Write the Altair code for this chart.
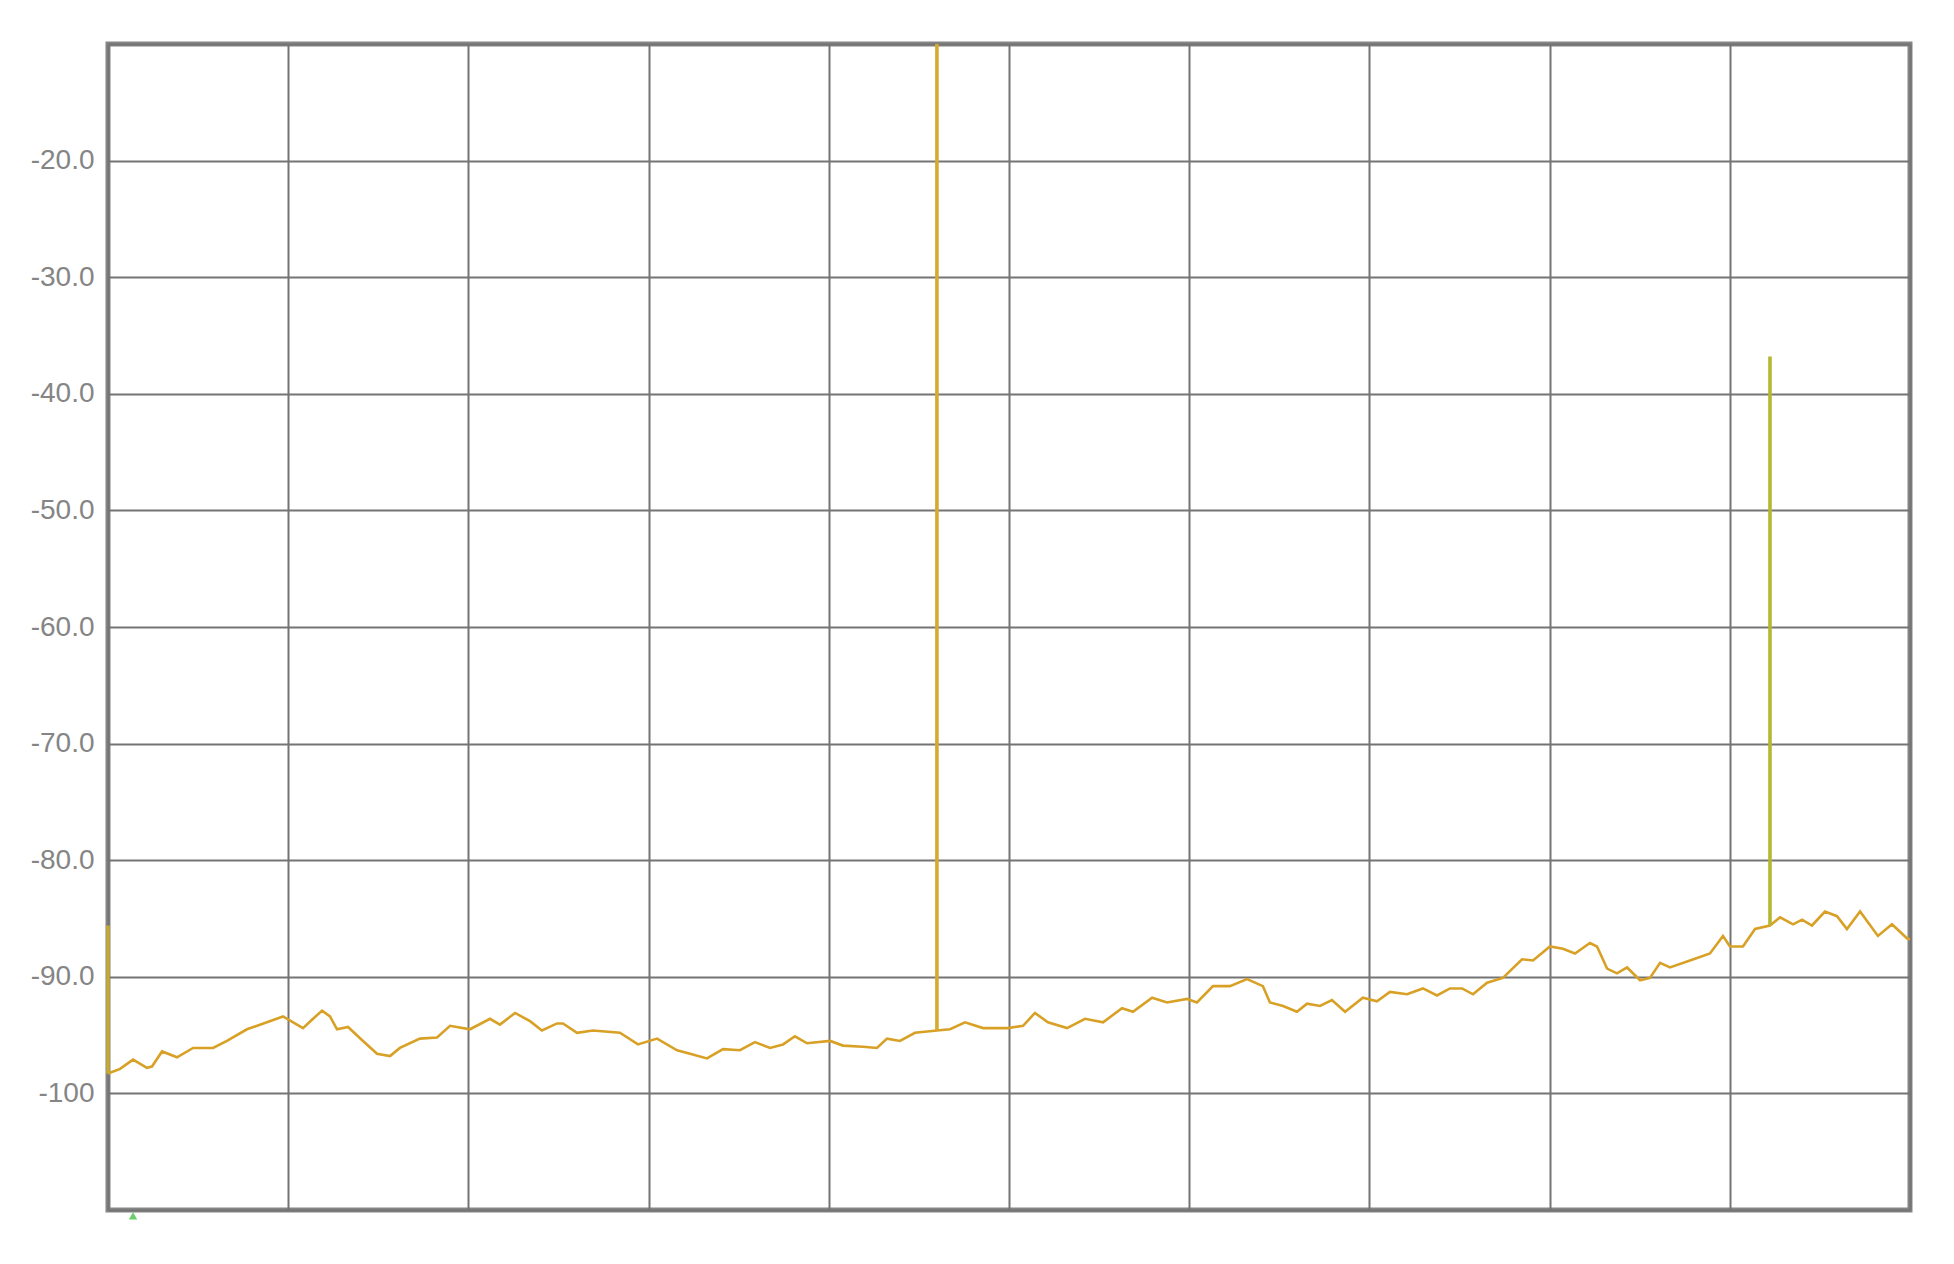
import altair as alt
import pandas as pd

# Trace point index (0..1000 across the 10 divisions) and level in dBm
trace_x = [0, 6.7, 13.9, 21.6, 24.4, 30.0, 38.3, 47.2, 58.3, 66.0, 77.1, 88.2, 97.1,
           108.2, 113.8, 118.8, 123.2, 127.1, 133.2, 141.5, 149.3, 156.5, 162.0, 173.1,
           182.6, 189.8, 200.9, 212.0, 217.5, 225.9, 234.2, 240.8, 249.2, 252.5, 260.3,
           269.1, 284.1, 294.1, 304.7, 315.8, 323.0, 332.4, 341.3, 350.7, 359.0, 367.4,
           374.6, 381.2, 387.9, 400.7, 407.9, 419.0, 426.7, 432.3, 439.5, 447.8, 460.0,
           467.3, 475.6, 485.6, 499.4, 507.8, 514.4, 521.6, 532.2, 542.2, 552.2, 562.7,
           568.8, 579.4, 587.7, 598.8, 604.3, 613.2, 622.6, 632.1, 640.9, 644.8, 652.1,
           659.8, 665.4, 672.6, 679.2, 686.5, 696.4, 704.2, 711.4, 720.9, 729.7, 737.5,
           744.7, 751.4, 757.5, 765.3, 774.1, 784.7, 790.8, 800.2, 807.4, 814.1, 822.4,
           826.3, 831.9, 837.4, 843.0, 850.2, 855.7, 861.3, 866.8, 877.9, 889.0, 896.2,
           900.1, 907.3, 914.0, 922.3, 927.9, 935.1, 940.1, 945.6, 952.8, 959.5, 965.0,
           972.3, 982.2, 990.0, 998.3, 1000]
trace_y = [-98.3, -97.9, -97.1, -97.8, -97.7, -96.4, -96.9, -96.1, -96.1, -95.5, -94.5,
           -93.9, -93.4, -94.4, -93.6, -92.9, -93.4, -94.5, -94.3, -95.5, -96.6, -96.8,
           -96.1, -95.3, -95.2, -94.2, -94.5, -93.6, -94.1, -93.1, -93.8, -94.6, -94.0,
           -94.0, -94.8, -94.6, -94.8, -95.8, -95.3, -96.3, -96.6, -97.0, -96.2, -96.3,
           -95.6, -96.1, -95.8, -95.1, -95.7, -95.5, -95.9, -96.0, -96.1, -95.3, -95.5,
           -94.8, -94.6, -94.5, -93.9, -94.4, -94.4, -94.2, -93.1, -93.9, -94.4, -93.6,
           -93.9, -92.7, -93.0, -91.8, -92.2, -91.9, -92.2, -90.8, -90.8, -90.2, -90.8,
           -92.2, -92.5, -93.0, -92.3, -92.5, -92.0, -93.0, -91.8, -92.1, -91.3, -91.5,
           -91.0, -91.6, -91.0, -91.0, -91.5, -90.5, -90.1, -88.5, -88.6, -87.4, -87.6,
           -88.0, -87.1, -87.4, -89.3, -89.7, -89.2, -90.3, -90.1, -88.8, -89.2, -88.6,
           -88.0, -86.5, -87.4, -87.4, -85.9, -85.6, -84.9, -85.5, -85.1, -85.6, -84.4,
           -84.8, -85.9, -84.4, -86.5, -85.5, -86.7, -86.8]

# Spurious spikes: position, base level, peak level
spike_x = [0, 460.0, 922.3]
spike_base = [-98.3, -94.6, -85.6]
spike_top = [-85.6, -10.0, -36.8]
spike_name = ["edge", "spur1", "spur2"]

# Marker below the trace start
marker_x = [13.9]
marker_y = [-110.5]

y_ticks = list(range(-110, -9, 10))
x_ticks = list(range(0, 1001, 100))

trace = pd.DataFrame({"i": range(len(trace_x)), "pt": trace_x, "dbm": trace_y})
spikes = pd.DataFrame({"pt": spike_x, "base": spike_base, "top": spike_top, "name": spike_name})
markers = pd.DataFrame({"pt": marker_x, "dbm": marker_y})

xs = alt.Scale(domain=[0, 1000], nice=False, zero=False)
ys = alt.Scale(domain=[-110, -10], nice=False, zero=False)

x_axis = alt.Axis(values=x_ticks, labels=False, ticks=False, domain=False, title=None,
                  grid=True, gridColor="#747474", gridWidth=2)
y_axis = alt.Axis(values=y_ticks, ticks=False, tickSize=0, domain=False, title=None,
                  grid=True, gridColor="#747474", gridWidth=2,
                  labelExpr="datum.value <= -110 || datum.value >= -10 ? '' : (datum.value == -100 ? '-100' : toString(datum.value) + '.0')",
                  labelFont="Liberation Sans", labelFontSize=28, labelColor="#858585",
                  labelPadding=14, labelBaseline="middle")

line = alt.Chart(trace).mark_line(color="#d8a126", strokeWidth=2.6).encode(
    x=alt.X("pt:Q", scale=xs, axis=x_axis),
    y=alt.Y("dbm:Q", scale=ys, axis=y_axis),
    order="i:Q",
)

rules = alt.Chart(spikes).mark_rule(strokeWidth=3.6).encode(
    x=alt.X("pt:Q", scale=xs),
    y=alt.Y("base:Q", scale=ys),
    y2="top:Q",
    color=alt.Color("name:N", scale=alt.Scale(domain=spike_name,
                                               range=["#c4aa34", "#d6aa2c", "#b6b634"]),
                    legend=None),
)

mark = alt.Chart(markers).mark_point(shape="triangle-up", filled=True, size=70,
                                     color="#44c444", opacity=0.8).encode(
    x=alt.X("pt:Q", scale=xs),
    y=alt.Y("dbm:Q", scale=ys),
)

chart = (line + rules + mark).properties(
    width=1802, height=1166, autosize="none",
    padding={"left": 100, "top": 36, "right": 30, "bottom": 40},
    background="white",
).configure_view(stroke="#858585", strokeWidth=5)

chart.save("out.html", embed_options={"renderer": "svg", "actions": False})
